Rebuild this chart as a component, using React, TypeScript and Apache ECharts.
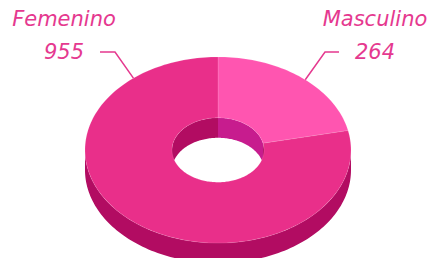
import React, { useEffect, useRef } from "react";
import * as echarts from "echarts";

const categories = ["Masculino", "Femenino"];
const values = [264, 955];
const topColors = ["#FF55B0", "#E92F8A"];
const sideColors = ["#C71C8E", "#B20C62"];
const labelTextColor = "#E5398F";

export default function App() {
  const ref = useRef<HTMLDivElement>(null);
  useEffect(() => {
    if (!ref.current) return;
    const chart = echarts.init(ref.current, null, { renderer: "svg" });
    const total = values.reduce((a, b) => a + b, 0);
    const starts: number[] = [];
    let acc = 0;
    values.forEach((v) => {
      starts.push(acc);
      acc += v;
    });

    const cx = 218, cy = 150, R = 133, k = 0.7, Ri = 46, depth = 20;
    const D2R = Math.PI / 180;
    const pt = (deg: number, r: number, dy: number) => [
      cx + r * Math.sin(deg * D2R),
      cy - r * k * Math.cos(deg * D2R) + dy,
    ];
    const arc = (a0: number, a1: number, r: number, dy: number) => {
      const n = Math.max(2, Math.ceil(Math.abs(a1 - a0) / 1.5));
      const out: number[][] = [];
      for (let i = 0; i <= n; i++) out.push(pt(a0 + ((a1 - a0) * i) / n, r, dy));
      return out;
    };
    const intersect = (a0: number, a1: number, b0: number, b1: number) => {
      const s = Math.max(a0, b0), e = Math.min(a1, b1);
      return e > s ? [s, e] : null;
    };

    const labelLayout = [
      { angle: 41, elbow: [325, 52], end: [339, 52], tx: 375, nameY: 19, valY: 52 },
      { angle: 320.5, elbow: [115, 52], end: [100, 52], tx: 64, nameY: 19, valY: 52 },
    ];
    const font = "italic 400 21px 'DejaVu Sans'";

    const option = {
      animation: false,
      series: [
        {
          type: "custom",
          coordinateSystem: "none",
          data: values.map((v, i) => ({ value: v, name: categories[i] })),
          renderItem: (params: any, api: any) => {
            const i = params.dataIndex;
            const a0 = (starts[i] / total) * 360;
            const a1 = ((starts[i] + values[i]) / total) * 360;
            const children: any[] = [];
            const os = intersect(a0, a1, 90, 270);
            if (os) {
              const pts = arc(os[0], os[1], R, 0).concat(arc(os[1], os[0], R, depth));
              children.push({
                type: "polygon",
                z2: 1,
                shape: { points: pts },
                style: { fill: sideColors[1] },
              });
            }
            const ranges = [intersect(a0, a1, 0, 90), intersect(a0, a1, 270, 360)];
            ranges.forEach((r) => {
              if (!r) return;
              const pts = arc(r[0], r[1], Ri, 0).concat(arc(r[1], r[0], Ri, depth));
              children.push({
                type: "polygon",
                z2: 2,
                shape: { points: pts },
                style: { fill: sideColors[i] },
              });
            });
            const top = arc(a0, a1, R, 0).concat(arc(a1, a0, Ri, 0));
            children.push({
              type: "polygon",
              z2: 3,
              shape: { points: top },
              style: { fill: topColors[i], stroke: "rgba(255,255,255,0.25)", lineWidth: 0.5 },
            });
            const L = labelLayout[i];
            const anchor = pt(L.angle, R, 0);
            children.push({
              type: "polyline",
              z2: 4,
              shape: { points: [anchor, L.elbow, L.end] },
              style: { stroke: labelTextColor, lineWidth: 1.5, fill: null },
            });
            children.push({
              type: "text",
              z2: 4,
              x: L.tx,
              y: L.nameY,
              style: {
                text: categories[i],
                fill: labelTextColor,
                font,
                align: "center",
                verticalAlign: "middle",
              },
            });
            children.push({
              type: "text",
              z2: 4,
              x: L.tx,
              y: L.valY,
              style: {
                text: String(api.value(0)),
                fill: labelTextColor,
                font,
                align: "center",
                verticalAlign: "middle",
              },
            });
            return { type: "group", children };
          },
        },
      ],
    };
    chart.setOption(option as any);
    return () => chart.dispose();
  }, []);
  return <div ref={ref} style={{ width: 433, height: 258, position: "absolute", left: 0, top: 0 }} />;
}
